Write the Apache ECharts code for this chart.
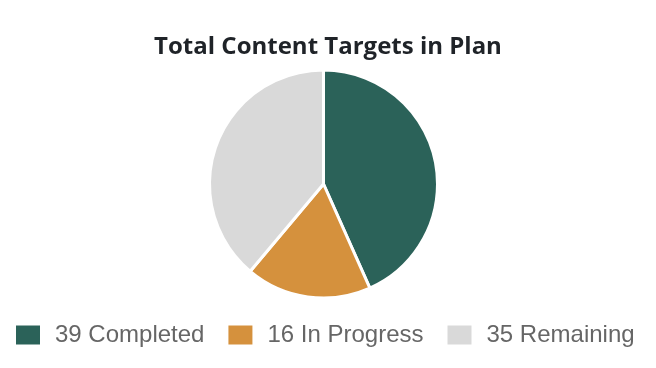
<!DOCTYPE html>
<html><head><meta charset="utf-8">
<script src="https://cdn.jsdelivr.net/npm/echarts@6/dist/echarts.min.js"></script>
<style>html,body{margin:0;padding:0;background:#fff}#c{width:656px;height:368px}</style>
</head><body><div id="c"></div>
<script>
const categories = ["Completed", "In Progress", "Remaining"];
const values = [39, 16, 35];
const colors = ["#2b6259", "#d5913d", "#d9d9d9"];
const titleText = "Total Content Targets in Plan";

const chart = echarts.init(document.getElementById('c'), null, {renderer: 'canvas'});
chart.setOption({
  animation: false,
  title: {
    text: titleText, left: 'center', top: 30,
    textStyle: {fontFamily: 'Open Sans', fontWeight: 'bold', fontSize: 24, color: '#1f2328'}
  },
  legend: {
    bottom: 21, left: 14, icon: 'rect', itemWidth: 26, itemHeight: 21, itemGap: 22,
    padding: 0,
    data: categories,
    formatter: function (name) { return values[categories.indexOf(name)] + ' ' + name; },
    textStyle: {fontFamily: 'Liberation Sans', fontSize: 24, color: '#666', padding: [0, 0, 0, 9]}
  },
  series: [{
    type: 'pie', center: [323.5, 184], radius: [0, 114], startAngle: 90, clockwise: true,
    label: {show: false}, labelLine: {show: false},
    itemStyle: {borderColor: '#fff', borderWidth: 3},
    emphasis: {disabled: true},
    data: categories.map((c, i) => ({name: c, value: values[i], itemStyle: {color: colors[i]}}))
  }]
});
</script></body></html>
